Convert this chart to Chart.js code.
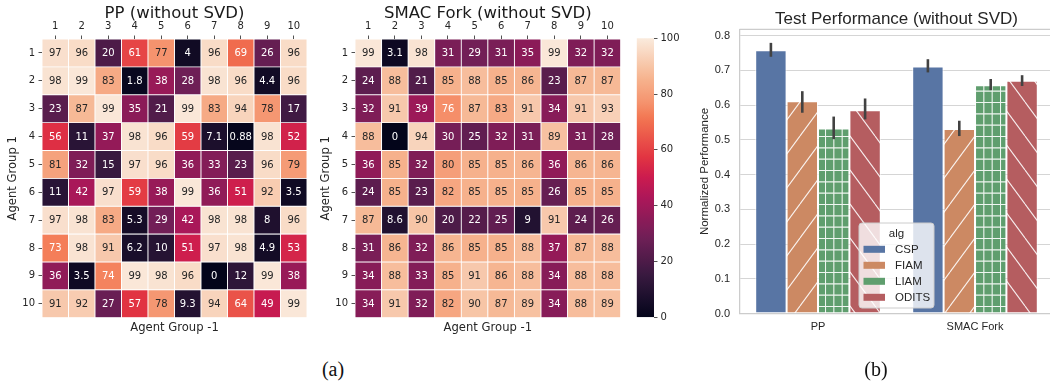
<!DOCTYPE html>
<html>
<head>
<meta charset="utf-8">
<script src="https://cdn.jsdelivr.net/npm/chart.js@4.4.1/dist/chart.umd.min.js"></script>
<style>
html, body { margin: 0; padding: 0; background: #ffffff; }
#fig { position: relative; width: 1050px; height: 383px; overflow: hidden; background: #ffffff; }
#fig canvas { position: absolute; top: 0; }
.cap { position: absolute; font-family: 'Liberation Serif', 'Times New Roman', serif; font-size: 20px; color: #111111;
       transform: translate(-50%, -50%); line-height: 1; white-space: nowrap; }
</style>
</head>
<body>
<div id="fig">
  <canvas id="hmPP" width="340" height="345" style="left:0px"></canvas>
  <canvas id="hmSMAC" width="320" height="345" style="left:320px"></canvas>
  <canvas id="cbar" width="60" height="345" style="left:630px"></canvas>
  <canvas id="perf" width="360" height="383" style="left:700px"></canvas>
  <div class="cap" style="left:333px; top:369px">(a)</div>
  <div class="cap" style="left:876px; top:369px">(b)</div>
</div>
<script>
// ---------- data ----------
const groupLabels = ['1', '2', '3', '4', '5', '6', '7', '8', '9', '10'];

// cross-play scores, rows = Agent Group 1, columns = Agent Group -1
const ppScores = [
  [97, 96, 20, 61, 77, 4, 96, 69, 26, 96],
  [98, 99, 83, 1.8, 38, 28, 98, 96, 4.4, 96],
  [23, 87, 99, 35, 21, 99, 83, 94, 78, 17],
  [56, 11, 37, 98, 96, 59, 7.1, 0.88, 98, 52],
  [81, 32, 15, 97, 96, 36, 33, 23, 96, 79],
  [11, 42, 97, 59, 38, 99, 36, 51, 92, 3.5],
  [97, 98, 83, 5.3, 29, 42, 98, 98, 8, 96],
  [73, 98, 91, 6.2, 10, 51, 97, 98, 4.9, 53],
  [36, 3.5, 74, 99, 98, 96, 0, 12, 99, 38],
  [91, 92, 27, 57, 78, 9.3, 94, 64, 49, 99]
];
const smacScores = [
  [99, 3.1, 98, 31, 29, 31, 35, 99, 32, 32],
  [24, 88, 21, 85, 88, 85, 86, 23, 87, 87],
  [32, 91, 39, 76, 87, 83, 91, 34, 91, 93],
  [88, 0, 94, 30, 25, 32, 31, 89, 31, 28],
  [36, 85, 32, 80, 85, 85, 86, 36, 86, 86],
  [24, 85, 23, 82, 85, 85, 85, 26, 85, 85],
  [87, 8.6, 90, 20, 22, 25, 9, 91, 24, 26],
  [31, 86, 32, 86, 85, 85, 88, 37, 87, 88],
  [34, 88, 33, 85, 91, 86, 88, 34, 88, 88],
  [34, 91, 32, 82, 90, 87, 89, 34, 88, 89]
];
const colorbarTicks = [0, 20, 40, 60, 80, 100];

// normalized test performance with confidence intervals
const envLabels = ['PP', 'SMAC Fork'];
const algNames = ['CSP', 'FIAM', 'LIAM', 'ODITS'];
const cspMean = [0.758, 0.711];
const cspLow = [0.739, 0.694];
const cspHigh = [0.779, 0.732];
const fiamMean = [0.611, 0.531];
const fiamLow = [0.578, 0.511];
const fiamHigh = [0.640, 0.555];
const liamMean = [0.533, 0.657];
const liamLow = [0.502, 0.643];
const liamHigh = [0.567, 0.675];
const oditsMean = [0.585, 0.670];
const oditsLow = [0.559, 0.655];
const oditsHigh = [0.619, 0.686];
const perfTicks = [0, 0.1, 0.2, 0.3, 0.4, 0.5, 0.6, 0.7, 0.8];

// ---------- styling helpers ----------
const HM_FONT = "'DejaVu Sans', sans-serif";
const BAR_FONT = "'Liberation Sans', Arial, sans-serif";
const INK = '#262626';

// "rocket" sequential colormap, piecewise linear
const rocketStops = [
  [0.000, [3, 5, 26]],
  [0.143, [53, 25, 62]],
  [0.286, [112, 31, 87]],
  [0.429, [173, 23, 89]],
  [0.500, [203, 27, 79]],
  [0.571, [225, 51, 66]],
  [0.714, [243, 118, 81]],
  [0.770, [245, 147, 110]],
  [0.857, [246, 180, 143]],
  [1.000, [250, 235, 221]]
];
function rocket(t) {
  t = Math.max(0, Math.min(1, t));
  for (let k = 1; k < rocketStops.length; k++) {
    const [t1, c1] = rocketStops[k];
    if (t <= t1) {
      const [t0, c0] = rocketStops[k - 1];
      const f = (t - t0) / (t1 - t0);
      return c0.map((v, i) => v + (c1[i] - v) * f);
    }
  }
  return rocketStops[rocketStops.length - 1][1];
}
const rgb = c => `rgb(${c.map(v => Math.round(v)).join(',')})`;
function luminance(c) {
  const lin = c.map(v => {
    v /= 255;
    return v <= 0.03928 ? v / 12.92 : Math.pow((v + 0.055) / 1.055, 2.4);
  });
  return 0.2126 * lin[0] + 0.7152 * lin[1] + 0.0722 * lin[2];
}

// ---------- heatmaps ----------
function cellTextPlugin(matrix) {
  return {
    id: 'cellText',
    afterDatasetsDraw(chart) {
      const ctx = chart.ctx;
      ctx.save();
      ctx.font = `10px ${HM_FONT}`;
      ctx.textAlign = 'center';
      ctx.textBaseline = 'middle';
      matrix.forEach((row, i) => {
        const meta = chart.getDatasetMeta(i);
        meta.data.forEach((el, j) => {
          const v = row[j];
          ctx.fillStyle = luminance(rocket(v / 100)) > 0.408 ? INK : '#ffffff';
          ctx.fillText(String(v), el.x, (el.y + el.base) / 2 + 0.5);
        });
      });
      ctx.restore();
    }
  };
}

function heatDecorPlugin(title) {
  return {
    id: 'heatDecor',
    afterDraw(chart) {
      const ctx = chart.ctx;
      const a = chart.chartArea;
      const cx = (a.left + a.right) / 2;
      ctx.save();
      ctx.fillStyle = '#1a1a1a';
      ctx.textAlign = 'center';
      ctx.textBaseline = 'alphabetic';
      ctx.font = `16.5px ${HM_FONT}`;
      ctx.fillText(title, cx, 17.5);
      ctx.fillStyle = INK;
      ctx.font = `11.6px ${HM_FONT}`;
      ctx.fillText('Agent Group -1', cx, 331);
      ctx.translate(a.left - 29, (a.top + a.bottom) / 2);
      ctx.rotate(-Math.PI / 2);
      ctx.textBaseline = 'middle';
      ctx.fillText('Agent Group 1', 0, 0);
      ctx.restore();
    }
  };
}

function tickGrid() {
  return {
    display: true, offset: false, drawOnChartArea: false, drawTicks: true,
    tickLength: 3.5, tickWidth: 0.8, tickColor: INK
  };
}

function makeHeatmap(id, matrix, title, axisLeft, padRight) {
  const datasets = matrix.map((row, i) => ({
    label: groupLabels[i],
    data: row.map(() => [i + 0.5, i + 1.5]),
    backgroundColor: row.map(v => rgb(rocket(v / 100))),
    borderColor: '#ffffff',
    borderWidth: 0.8,
    borderSkipped: false,
    grouped: false,
    barPercentage: 1,
    categoryPercentage: 1
  }));
  return new Chart(document.getElementById(id), {
    type: 'bar',
    data: { labels: groupLabels, datasets },
    options: {
      responsive: false, animation: false, events: [],
      layout: { padding: { left: 0, top: 0, right: padRight, bottom: 27.3 } },
      plugins: { legend: { display: false }, tooltip: { enabled: false } },
      scales: {
        x: {
          type: 'category', position: 'top', offset: true,
          grid: tickGrid(), border: { display: false },
          ticks: { font: { family: HM_FONT, size: 10 }, color: INK, padding: 3.5, maxRotation: 0, autoSkip: false },
          afterFit: s => { s.height = 39; }
        },
        y: {
          type: 'linear', min: 0.5, max: groupLabels.length + 0.5, reverse: true,
          afterBuildTicks: s => { s.ticks = groupLabels.map((_, i) => ({ value: i + 1 })); },
          grid: tickGrid(), border: { display: false },
          ticks: {
            autoSkip: false,
            font: { family: HM_FONT, size: 10 }, color: INK, padding: 3.5,
            callback: v => groupLabels[Math.round(v) - 1] ?? ''
          },
          afterFit: s => { s.width = axisLeft; }
        }
      }
    },
    plugins: [cellTextPlugin(matrix), heatDecorPlugin(title)]
  });
}

makeHeatmap('hmPP', ppScores, 'PP (without SVD)', 42, 33);
makeHeatmap('hmSMAC', smacScores, 'SMAC Fork (without SVD)', 35, 19.3);

// ---------- colorbar ----------
function rocketGradient(chart) {
  const a = chart.chartArea;
  if (!a) return 'rgb(200,60,70)';
  const g = chart.ctx.createLinearGradient(0, a.bottom, 0, a.top);
  for (let k = 0; k <= 40; k++) {
    const t = k / 40;
    g.addColorStop(t, rgb(rocket(t)));
  }
  return g;
}
new Chart(document.getElementById('cbar'), {
  type: 'bar',
  data: {
    labels: ['scale'],
    datasets: [{
      data: [[colorbarTicks[0], colorbarTicks[colorbarTicks.length - 1]]],
      backgroundColor: c => rocketGradient(c.chart),
      borderWidth: 0, barPercentage: 1, categoryPercentage: 1
    }]
  },
  options: {
    responsive: false, animation: false, events: [],
    layout: { padding: { left: 6.7, top: 38.3, right: 0, bottom: 27.7 } },
    plugins: { legend: { display: false }, tooltip: { enabled: false } },
    scales: {
      x: { display: false },
      y: {
        position: 'right', min: colorbarTicks[0], max: colorbarTicks[colorbarTicks.length - 1],
        afterBuildTicks: s => { s.ticks = colorbarTicks.map(v => ({ value: v })); },
        grid: tickGrid(), border: { display: false },
        ticks: { font: { family: HM_FONT, size: 10 }, color: INK, padding: 3 },
        afterFit: s => { s.width = 36; }
      }
    }
  }
});

// ---------- performance bars ----------
const algColors = ['#5875a4', '#cc8963', '#5f9e6e', '#b55d60'];
const HATCH_W = 25, HATCH_H = 34;

function diagPattern(color, backslash) {
  const c = document.createElement('canvas');
  c.width = HATCH_W; c.height = HATCH_H;
  const g = c.getContext('2d');
  g.fillStyle = color;
  g.fillRect(0, 0, HATCH_W, HATCH_H);
  g.strokeStyle = 'rgba(255,255,255,0.9)';
  g.lineWidth = 1.1;
  for (const dx of [-HATCH_W, 0, HATCH_W]) {
    g.beginPath();
    if (backslash) { g.moveTo(dx, 0); g.lineTo(dx + HATCH_W, HATCH_H); }
    else { g.moveTo(dx, HATCH_H); g.lineTo(dx + HATCH_W, 0); }
    g.stroke();
  }
  return g.createPattern(c, 'repeat');
}
function gridPattern(color) {
  const c = document.createElement('canvas');
  c.width = HATCH_W; c.height = HATCH_H;
  const g = c.getContext('2d');
  g.fillStyle = color;
  g.fillRect(0, 0, HATCH_W, HATCH_H);
  g.strokeStyle = 'rgba(255,255,255,0.9)';
  g.lineWidth = 1.1;
  g.beginPath();
  for (let k = 0; k < 3; k++) {
    const x = k * HATCH_W / 3 + 0.5, y = k * HATCH_H / 3 + 0.5;
    g.moveTo(x, 0); g.lineTo(x, HATCH_H);
    g.moveTo(0, y); g.lineTo(HATCH_W, y);
  }
  g.stroke();
  return g.createPattern(c, 'repeat');
}

const perfMean = [cspMean, fiamMean, liamMean, oditsMean];
const perfLow = [cspLow, fiamLow, liamLow, oditsLow];
const perfHigh = [cspHigh, fiamHigh, liamHigh, oditsHigh];
const perfFills = [
  algColors[0],
  diagPattern(algColors[1], false),
  gridPattern(algColors[2]),
  diagPattern(algColors[3], true)
];

const errorBars = {
  id: 'errorBars',
  afterDatasetsDraw(chart) {
    const ctx = chart.ctx;
    const ys = chart.scales.y;
    ctx.save();
    ctx.strokeStyle = '#424242';
    ctx.lineWidth = 2.6;
    ctx.lineCap = 'butt';
    perfMean.forEach((_, k) => {
      chart.getDatasetMeta(k).data.forEach((el, j) => {
        ctx.beginPath();
        ctx.moveTo(el.x, ys.getPixelForValue(perfLow[k][j]));
        ctx.lineTo(el.x, ys.getPixelForValue(perfHigh[k][j]));
        ctx.stroke();
      });
    });
    ctx.restore();
  }
};

const perfDecor = {
  id: 'perfDecor',
  afterDraw(chart) {
    const ctx = chart.ctx;
    const a = chart.chartArea;
    ctx.save();
    // upper spine
    ctx.strokeStyle = '#cccccc';
    ctx.lineWidth = 1.25;
    ctx.beginPath();
    ctx.moveTo(a.left, a.top);
    ctx.lineTo(a.right, a.top);
    ctx.stroke();
    // title and axis label
    ctx.fillStyle = INK;
    ctx.textAlign = 'center';
    ctx.textBaseline = 'alphabetic';
    ctx.font = `17px ${BAR_FONT}`;
    ctx.fillText('Test Performance (without SVD)', (a.left + a.right) / 2, 23.5);
    ctx.save();
    ctx.translate(4.5, (a.top + a.bottom) / 2);
    ctx.rotate(-Math.PI / 2);
    ctx.textBaseline = 'middle';
    ctx.font = `11.5px ${BAR_FONT}`;
    ctx.fillText('Normalized Performance', 0, 0);
    ctx.restore();
    // legend
    const x0 = 159, y0 = 223, w = 75, h = 85, r = 3;
    ctx.beginPath();
    ctx.moveTo(x0 + r, y0);
    ctx.lineTo(x0 + w - r, y0); ctx.arcTo(x0 + w, y0, x0 + w, y0 + r, r);
    ctx.lineTo(x0 + w, y0 + h - r); ctx.arcTo(x0 + w, y0 + h, x0 + w - r, y0 + h, r);
    ctx.lineTo(x0 + r, y0 + h); ctx.arcTo(x0, y0 + h, x0, y0 + h - r, r);
    ctx.lineTo(x0, y0 + r); ctx.arcTo(x0, y0, x0 + r, y0, r);
    ctx.closePath();
    ctx.fillStyle = 'rgba(255,255,255,0.8)';
    ctx.fill();
    ctx.strokeStyle = '#cccccc';
    ctx.lineWidth = 1;
    ctx.stroke();
    ctx.fillStyle = INK;
    ctx.textAlign = 'center';
    ctx.textBaseline = 'middle';
    ctx.font = `11.5px ${BAR_FONT}`;
    ctx.fillText('alg', x0 + w / 2, 233.5);
    ctx.textAlign = 'left';
    algNames.forEach((name, k) => {
      const yy = 249.3 + 16 * k;
      ctx.fillStyle = algColors[k];
      ctx.fillRect(163.5, yy - 3.5, 21.5, 7);
      ctx.fillStyle = INK;
      ctx.fillText(name, 195, yy + 0.5);
    });
    ctx.restore();
  }
};

new Chart(document.getElementById('perf'), {
  type: 'bar',
  data: {
    labels: envLabels,
    datasets: algNames.map((name, k) => ({
      label: name,
      data: perfMean[k],
      backgroundColor: perfFills[k],
      borderColor: 'rgba(255,255,255,0.75)',
      borderWidth: 1,
      borderSkipped: false,
      categoryPercentage: 0.8,
      barPercentage: 1
    }))
  },
  options: {
    responsive: false, animation: false, events: [],
    layout: { padding: { left: 0, top: 29.3, right: 6.5, bottom: 0 } },
    plugins: { legend: { display: false }, tooltip: { enabled: false } },
    scales: {
      x: {
        type: 'category', offset: true,
        grid: { display: true, drawOnChartArea: false, drawTicks: false },
        border: { display: true, color: '#cccccc', width: 1.25 },
        ticks: { font: { family: BAR_FONT, size: 11 }, color: INK, padding: 7 },
        afterFit: s => { s.height = 69.3; }
      },
      y: {
        min: 0, max: 0.818,
        afterBuildTicks: s => { s.ticks = perfTicks.map(v => ({ value: v })); },
        grid: { color: '#d5d5d5', lineWidth: 1, drawTicks: false },
        border: { display: true, color: '#cccccc', width: 1.25 },
        ticks: { font: { family: BAR_FONT, size: 11 }, color: INK, padding: 9.5, callback: v => v.toFixed(1) },
        afterFit: s => { s.width = 39.5; }
      }
    }
  },
  plugins: [errorBars, perfDecor]
});
</script>
</body>
</html>
